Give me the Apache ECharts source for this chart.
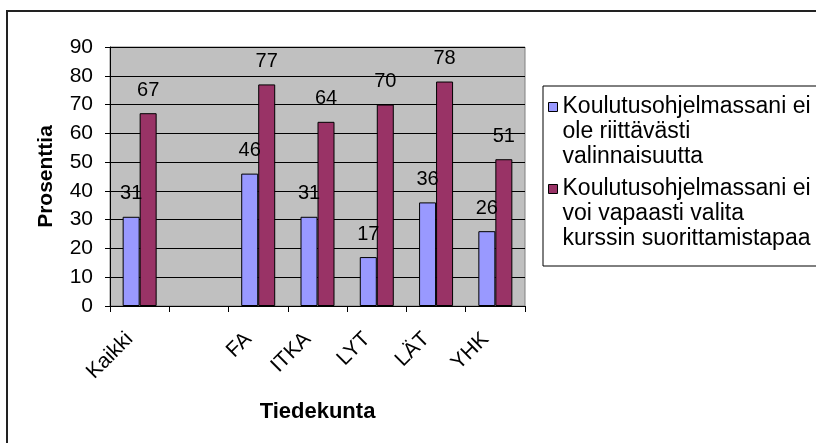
<!DOCTYPE html>
<html>
<head>
<meta charset="utf-8">
<script src="https://cdn.jsdelivr.net/npm/echarts@6/dist/echarts.min.js"></script>
<style>
  html, body { margin: 0; padding: 0; background: #fff; }
  #chart { width: 816px; height: 443px; }
</style>
</head>
<body>
<div id="chart"></div>
<script>
var categories = ['Kaikki', '', 'FA', 'ITKA', 'LYT', 'LÄT', 'YHK'];
var valinnaisuus = [31, '-', 46, 31, 17, 36, 26];
var suoritustapa = [67, '-', 77, 64, 70, 78, 51];
var yTicks = [0, 10, 20, 30, 40, 50, 60, 70, 80, 90];

var name1 = 'Koulutusohjelmassani ei\nole riittävästi\nvalinnaisuutta';
var name2 = 'Koulutusohjelmassani ei\nvoi vapaasti valita\nkurssin suorittamistapaa';

var font = 'Arial, "Liberation Sans", sans-serif';

var myChart = echarts.init(document.getElementById('chart'));
var option = {
    animation: false,
    textStyle: { fontFamily: font },
    // ulkoreunus
    graphic: [{
        type: 'rect',
        shape: { x: 7, y: 11, width: 900, height: 500 },
        style: { fill: 'none', stroke: '#222', lineWidth: 2 },
        silent: true
    }],
    grid: {
        left: 110, right: 291, top: 47, bottom: 137,
        show: true,
        backgroundColor: '#c0c0c0',
        borderColor: '#808080',
        borderWidth: 1
    },
    legend: {
        orient: 'vertical',
        left: 543, top: 86,
        padding: [8, 40, 14, 5],
        itemGap: 6,
        itemWidth: 9,
        itemHeight: 75,
        symbolKeepAspect: false,
        icon: 'path://M0,0 M0,8h9v9h-9z M0,75',
        itemStyle: { borderColor: '#000', borderWidth: 1 },
        backgroundColor: '#fff',
        borderColor: '#000',
        borderWidth: 1,
        textStyle: { fontSize: 23, lineHeight: 25, color: '#000', fontFamily: font },
        data: [name1, name2]
    },
    xAxis: {
        type: 'category',
        data: categories,
        name: 'Tiedekunta',
        nameLocation: 'middle',
        nameGap: 95,
        nameTextStyle: { fontSize: 22, fontWeight: 'bold', color: '#000' },
        axisLine: { lineStyle: { color: '#000' } },
        axisTick: { show: true, length: 6, lineStyle: { color: '#000' } },
        axisLabel: { rotate: 45, margin: 20, padding: [0, 14, 0, 0], fontSize: 21, color: '#000', interval: 0 }
    },
    yAxis: {
        type: 'value',
        min: 0, max: 90, interval: 10,
        name: 'Prosenttia',
        nameLocation: 'middle',
        nameGap: 53,
        nameRotate: 90,
        nameTextStyle: { fontSize: 21, fontWeight: 'bold', color: '#000' },
        axisLine: { show: true, lineStyle: { color: '#000' } },
        axisTick: { show: true, length: 5, lineStyle: { color: '#000' } },
        axisLabel: { margin: 17, fontSize: 21, color: '#000',
            formatter: function (v) { return yTicks.indexOf(v) >= 0 ? String(v) : ''; } },
        splitLine: { show: true, lineStyle: { color: '#000', width: 1 } }
    },
    series: [
        {
            name: name1,
            type: 'bar',
            data: valinnaisuus,
            barWidth: 17,
            barGap: '0%',
            itemStyle: { color: '#9999ff', borderColor: '#000', borderWidth: 1 },
            label: { show: true, position: 'top', distance: 13, fontSize: 20, color: '#000' }
        },
        {
            name: name2,
            type: 'bar',
            data: suoritustapa,
            barWidth: 17,
            itemStyle: { color: '#993366', borderColor: '#000', borderWidth: 1 },
            label: { show: true, position: 'top', distance: 13, fontSize: 20, color: '#000' }
        }
    ]
};

myChart.setOption(option);
</script>
</body>
</html>
